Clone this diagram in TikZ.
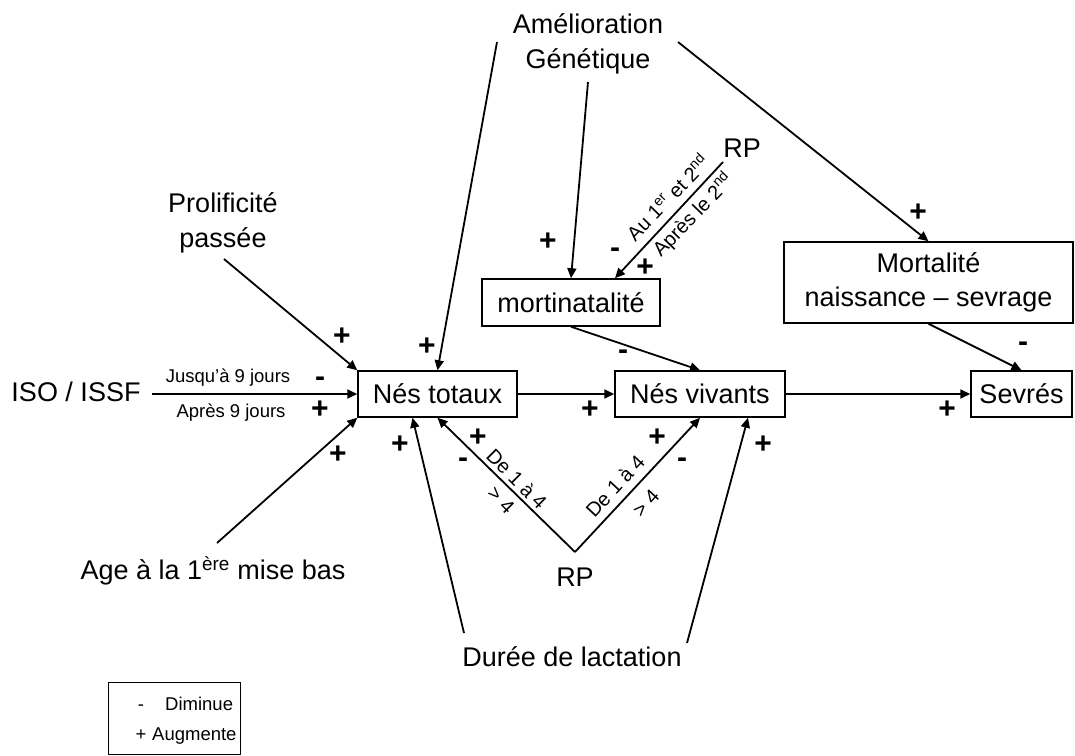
\documentclass[tikz,border=0pt]{standalone}
\usepackage{fontspec}
\setmainfont{Liberation Sans}
\usetikzlibrary{arrows.meta}
\begin{document}
\begin{tikzpicture}[x=1pt,y=-1pt,
    big/.style={font=\fontsize{27}{35}\selectfont, align=center, inner sep=0pt},
    small/.style={font=\fontsize{18.5}{20}\selectfont, inner sep=0pt},
    slant/.style={font=\fontsize{20}{22}\selectfont, inner sep=0pt},
    sign/.style={font=\fontsize{30}{30}\selectfont\bfseries, inner sep=0pt},
    box/.style={draw, line width=1.5pt, font=\fontsize{27}{34}\selectfont, align=center, inner sep=0pt},
    arr/.style={line width=1.8pt, -{Triangle[length=10pt,width=9pt]}}]
    \useasboundingbox (0,0) rectangle (1075,755);
    % boxes
    \node[box, minimum width=159, minimum height=46] (nt) at (437.5,394) {Nés totaux};
    \node[box, minimum width=170, minimum height=46] (nv) at (700,394) {Nés vivants};
    \node[box, minimum width=101, minimum height=46] (sev) at (1021.5,394) {Sevrés};
    \node[box, minimum width=178, minimum height=47] (mort) at (571,302.5) {mortinatalité};
    \node[box, minimum width=289, minimum height=81] (mns) at (928.5,282.5) {Mortalité\\naissance – sevrage};
    %
    \node[big] (amel) at (588,44) {Amélioration\\Génétique};
    \node[big] (prolif) at (223,223) {Prolificité\\passée};
    \node[big] (iso) at (76,392) {ISO / ISSF};
    \node[big] (age) at (213,571) {Age à la 1\textsuperscript{ère} mise bas};
    \node[big] (duree) at (572,657) {Durée de lactation};
    \node[big] (rpbas) at (575,577) {RP};
    \node[big] (rphaut) at (742,148) {RP};
    %
    \coordinate (amelA) at (497,42);
    \coordinate (amelB) at (678,42);
    \coordinate (genC) at (588,82);
    \coordinate (rphautA) at (723,162);
    \coordinate (prolifA) at (224,259);
    \coordinate (isoA) at (152,394);
    \coordinate (ageA) at (217,543);
    \coordinate (rpV) at (575,552);
    \coordinate (dureeA) at (464,633);
    \coordinate (dureeB) at (687,643);
    % connectors
    \draw[arr] (amelA) -- (nt.north);
    \draw[arr] (amelB) -- (mns.north);
    \draw[arr] (genC) -- (mort.north);
    \draw[arr] (rphautA) -- ([xshift=44pt]mort.north);
    \draw[arr] (prolifA) -- (nt.north west);
    \draw[arr] (isoA) -- (nt.west);
    \draw[arr] (ageA) -- (nt.south west);
    \draw[arr] (nt) -- (nv);
    \draw[arr] (nv) -- (sev);
    \draw[arr] (mort.south) -- (nv.north);
    \draw[arr] (mns.south) -- (sev.north);
    \draw[arr] (rpV) -- (nt.south);
    \draw[arr] (rpV) -- (nv.south);
    \draw[arr] (dureeA) -- ([xshift=-25pt]nt.south);
    \draw[arr] (dureeB) -- ([xshift=48pt]nv.south);
    % signs
    \node[sign] at (342,337) {+};
    \node[sign] at (427,347) {+};
    \node[sign] at (320,382) {-};
    \node[sign] at (320,410) {+};
    \node[sign] at (338,455) {+};
    \node[sign] at (590,410) {+};
    \node[sign] at (400,445) {+};
    \node[sign] at (478,438) {+};
    \node[sign] at (463,463) {-};
    \node[sign] at (657,438) {+};
    \node[sign] at (682,463) {-};
    \node[sign] at (763,445) {+};
    \node[sign] at (623,355) {-};
    \node[sign] at (548,242) {+};
    \node[sign] at (615,253) {-};
    \node[sign] at (645,268) {+};
    \node[sign] at (918,213) {+};
    \node[sign] at (1023,347) {-};
    \node[sign] at (947,410) {+};
    % small labels
    \node[small] at (228,378) {Jusqu’à 9 jours};
    \node[small] at (231,413) {Après 9 jours};
    \node[slant, rotate=46] at (667,197) {Au 1\textsuperscript{er} et 2\textsuperscript{nd}};
    \node[slant, rotate=46] at (693,215) {Après le 2\textsuperscript{nd}};
    \node[slant, rotate=-45] at (517,479) {De 1 à 4};
    \node[slant, rotate=-45] at (501,500) {> 4};
    \node[slant, rotate=47] at (615,486) {De 1 à 4};
    \node[slant, rotate=47] at (646,503) {> 4};
    % legend
    \node[draw, line width=1.2pt, anchor=north west, minimum width=132, minimum height=72, inner sep=0pt] (legende) at (108,682) {};
    \node[small, anchor=base] at (141,710) {-};
    \node[small, anchor=base west] at (165,710) {Diminue};
    \node[small, anchor=base] at (141,740) {+};
    \node[small, anchor=base west] at (152,740) {Augmente};
\end{tikzpicture}
\end{document}
